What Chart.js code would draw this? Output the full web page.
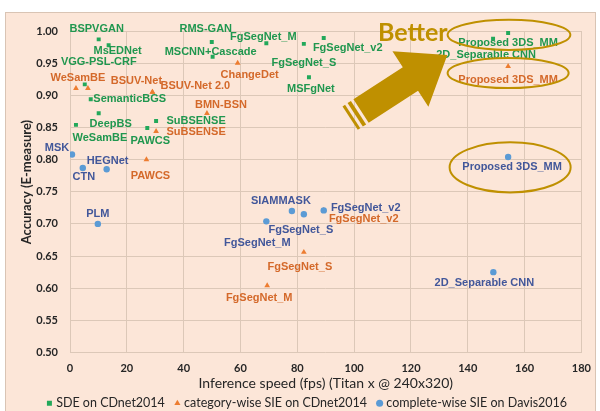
<!DOCTYPE html>
<html>
<head>
<meta charset="utf-8">
<script src="https://cdn.jsdelivr.net/npm/chart.js@4"></script>
<style>
  html, body { margin: 0; padding: 0; background: #ffffff; }
  canvas { display: block; }
</style>
</head>
<body>
<canvas id="c" width="600" height="411"></canvas>
<script>
// ---------------- DATA ----------------
const xTicks = [0, 20, 40, 60, 80, 100, 120, 140, 160, 180];
const yTicks = [0.50, 0.55, 0.60, 0.65, 0.70, 0.75, 0.80, 0.85, 0.90, 0.95, 1.00];

// SDE on CDnet2014 (green squares)
const sdeNames = ["BSPVGAN", "MsEDNet", "VGG-PSL-CRF", "SemanticBGS", "DeepBS", "WeSamBE",
  "SuBSENSE", "PAWCS", "RMS-GAN", "MSCNN+Cascade", "FgSegNet_M", "FgSegNet_S",
  "FgSegNet_v2", "MSFgNet", "2D_Separable CNN", "Proposed 3DS_MM"];
const sdeFps = [10.1, 13.6, 5.2, 7.3, 10.1, 2.1, 30.3, 27.2, 49.9, 50.2, 69.1, 82.3, 89.3, 84.1, 148.9, 154.2];
const sdeAcc = [0.987, 0.978, 0.917, 0.894, 0.872, 0.854, 0.860, 0.849, 0.983, 0.960, 0.981, 0.980, 0.989, 0.928, 0.988, 0.997];

// category-wise SIE on CDnet2014 (orange triangles)
const catNames = ["WeSamBE", "", "BSUV-Net", "BSUV-Net 2.0", "BMN-BSN", "SuBSENSE", "PAWCS",
  "ChangeDet", "FgSegNet_v2", "FgSegNet_S", "FgSegNet_M", "Proposed 3DS_MM"];
const catFps = [2.1, 6.3, 29.0, 29.0, 48.2, 30.3, 26.9, 59.0, 89.3, 82.3, 69.4, 154.2];
const catAcc = [0.911, 0.911, 0.905, 0.905, 0.872, 0.844, 0.800, 0.950, 0.721, 0.656, 0.604, 0.945];

// complete-wise SIE on Davis2016 (blue circles)
const davNames = ["MSK", "CTN", "HEGNet", "PLM", "FgSegNet_M", "SIAMMASK", "FgSegNet_S",
  "FgSegNet_v2", "2D_Separable CNN", "Proposed 3DS_MM"];
const davFps = [0.7, 4.5, 12.9, 9.8, 69.1, 78.1, 82.3, 89.3, 149.0, 154.2];
const davAcc = [0.808, 0.787, 0.785, 0.700, 0.704, 0.720, 0.715, 0.721, 0.625, 0.804];

const seriesNames = ["SDE on CDnet2014", "category-wise SIE on CDnet2014", "complete-wise SIE on Davis2016"];
const xTitle = 'Inference speed (fps) (Titan x @ 240x320)';
const yTitle = 'Accuracy (E-measure)';

// ---------------- STYLE / LABEL PLACEMENT (pixel offsets of label centres) ----------------
const sdeLabelOffsets = [[-2,-10],[9,6],[14,-22],[39,0],[12,11],[24,13],[40,0],[3,13],
  [-6,-13],[-2,-5],[-3,-6],[0,19],[24,10],[2,12],[-7,16],[0,10]];
const catLabelOffsets = [[2,-10],[0,0],[-16,-11],[43,-6],[14,-8],[40,1],[4,16],
  [12,12],[40,9],[-4,15],[-8,12],[0,14]];
const davLabelOffsets = [[-15,-6],[1,9],[1,-8],[0,-10],[-9,22],[-11,-10],[-3,16],
  [42,-2],[-9,11],[4,10]];

const GREEN = '#22a85a', GREEN_T = '#20974f';
const ORANGE = '#ed7d31', ORANGE_T = '#d4692a';
const BLUE = '#5b9bd5', BLUE_T = '#42579a';
const GOLD = '#bf9000';

function pts(xs, ys) { return xs.map((x, i) => ({ x: x, y: ys[i] })); }

const bgPlugin = {
  id: 'bg',
  beforeDraw(chart) {
    const ctx = chart.ctx;
    ctx.save();
    ctx.fillStyle = '#ffffff';
    ctx.fillRect(0, 0, chart.width, chart.height);
    ctx.fillStyle = '#fce6d8';
    ctx.fillRect(5, 12, 591, 399);
    ctx.strokeStyle = '#d9c4b4';
    ctx.lineWidth = 1;
    ctx.strokeRect(5.5, 12.5, 590, 399);
    ctx.restore();
  }
};

const yTitlePlugin = {
  id: 'ytitle',
  afterDraw(chart, args, opts) {
    const ctx = chart.ctx, ys = chart.scales.y;
    ctx.save();
    ctx.translate(opts.x, ys.getPixelForValue(opts.centerValue));
    ctx.rotate(-Math.PI / 2);
    ctx.font = 'bold 13px Lato, sans-serif';
    ctx.fillStyle = '#262626';
    ctx.textAlign = 'center';
    ctx.textBaseline = 'middle';
    ctx.fillText(opts.text, 0, 0);
    ctx.restore();
  }
};

const labelPlugin = {
  id: 'ptlabels',
  afterDatasetsDraw(chart, args, opts) {
    const ctx = chart.ctx;
    ctx.save();
    ctx.font = 'bold 11px "Liberation Sans", Arial, sans-serif';
    ctx.textAlign = 'center';
    ctx.textBaseline = 'middle';
    chart.data.datasets.forEach((ds, di) => {
      const meta = chart.getDatasetMeta(di);
      const names = opts.names[di], offs = opts.offsets[di];
      ctx.fillStyle = opts.colors[di];
      meta.data.forEach((el, i) => {
        if (!names[i]) return;
        ctx.fillText(names[i], el.x + offs[i][0], el.y + offs[i][1]);
      });
    });
    ctx.restore();
  }
};

const decoPlugin = {
  id: 'deco',
  afterDraw(chart, args, opts) {
    const ctx = chart.ctx, xs = chart.scales.x, ys = chart.scales.y;
    ctx.save();
    ctx.strokeStyle = GOLD; ctx.lineWidth = 2;
    opts.ellipses.forEach(e => {
      const cx = xs.getPixelForValue(e.cx), cy = ys.getPixelForValue(e.cy);
      const rx = Math.abs(xs.getPixelForValue(e.cx + e.rx) - cx);
      const ry = Math.abs(ys.getPixelForValue(e.cy + e.ry) - cy);
      ctx.beginPath(); ctx.ellipse(cx, cy, rx, ry, 0, 0, Math.PI * 2); ctx.stroke();
    });
    const a = opts.arrow;
    const tx = xs.getPixelForValue(a.tipX), ty = ys.getPixelForValue(a.tipY);
    const sx = xs.getPixelForValue(a.tailX), sy = ys.getPixelForValue(a.tailY);
    const L = Math.hypot(tx - sx, ty - sy), ang = Math.atan2(ty - sy, tx - sx);
    ctx.translate(sx, sy); ctx.rotate(ang);
    ctx.fillStyle = GOLD;
    const hw = 14, headL = 44, headW = 33;
    ctx.fillRect(0, -hw, 3, hw * 2);
    ctx.fillRect(6, -hw, 4, hw * 2);
    ctx.beginPath();
    ctx.moveTo(13, -hw); ctx.lineTo(L - headL, -hw); ctx.lineTo(L - headL, -headW);
    ctx.lineTo(L, 0); ctx.lineTo(L - headL, headW); ctx.lineTo(L - headL, hw); ctx.lineTo(13, hw);
    ctx.closePath(); ctx.fill();
    ctx.setTransform(1, 0, 0, 1, 0, 0);
    ctx.fillStyle = GOLD;
    ctx.font = 'bold 25px Lato, sans-serif';
    ctx.textAlign = 'left'; ctx.textBaseline = 'middle';
    ctx.fillText(opts.text, xs.getPixelForValue(opts.textX), ys.getPixelForValue(opts.textY));
    ctx.restore();
  }
};

new Chart(document.getElementById('c'), {
  type: 'scatter',
  data: {
    datasets: [
      { label: seriesNames[0], data: pts(sdeFps, sdeAcc), pointStyle: 'rect', pointRadius: 2.8,
        backgroundColor: GREEN, borderColor: GREEN, borderWidth: 0, order: 1 },
      { label: seriesNames[1], data: pts(catFps, catAcc), pointStyle: 'triangle', pointRadius: 3.3,
        backgroundColor: ORANGE, borderColor: ORANGE, borderWidth: 0, order: 2 },
      { label: seriesNames[2], data: pts(davFps, davAcc), pointStyle: 'circle', pointRadius: 3.2,
        backgroundColor: BLUE, borderColor: BLUE, borderWidth: 0, order: 0 }
    ]
  },
  options: {
    responsive: false,
    animation: false,
    layout: { padding: { left: 30, right: 14, top: 31, bottom: -8.5 } },
    scales: {
      x: {
        type: 'linear', min: xTicks[0], max: xTicks[xTicks.length - 1],
        afterBuildTicks(s) { s.ticks = xTicks.map(v => ({ value: v })); },
        afterFit(s) { s.height = 32.5; },
        grid: { color: '#dcc8b8', drawTicks: false, lineWidth: 1 },
        border: { display: false },
        ticks: { padding: 9, color: '#262626', font: { family: 'Lato', size: 11, weight: 'bold' },
          callback: v => String(v) },
        title: { display: true, text: xTitle, color: '#262626',
          font: { family: 'Lato', size: 14 }, padding: { top: 0, bottom: -6.9 } }
      },
      y: {
        type: 'linear', min: yTicks[0], max: yTicks[yTicks.length - 1],
        afterBuildTicks(s) { s.ticks = yTicks.map(v => ({ value: v })); },
        afterFit(s) { s.width = 40; },
        grid: { color: '#dcc8b8', drawTicks: false, lineWidth: 1 },
        border: { display: false },
        ticks: { padding: 12, color: '#262626', font: { family: 'Lato', size: 11, weight: 'bold' },
          callback: v => Number(v).toFixed(2) },
        title: { display: false }
      }
    },
    plugins: {
      legend: {
        position: 'bottom',
        labels: { usePointStyle: true, boxWidth: 1, boxHeight: 5, padding: 12, color: '#262626',
          font: { family: 'Lato', size: 12.5 },
          sort: (a, b) => a.datasetIndex - b.datasetIndex }
      },
      tooltip: { enabled: false },
      ytitle: { text: yTitle, x: 27, centerValue: 0.765 },
      ptlabels: {
        names: [sdeNames, catNames, davNames],
        offsets: [sdeLabelOffsets, catLabelOffsets, davLabelOffsets],
        colors: [GREEN_T, ORANGE_T, BLUE_T]
      },
      deco: {
        ellipses: [
          { cx: 154.5, cy: 0.994, rx: 21.6, ry: 0.0234 },
          { cx: 154.2, cy: 0.9346, rx: 21.3, ry: 0.0234 },
          { cx: 154.9, cy: 0.788, rx: 21.3, ry: 0.039 }
        ],
        arrow: { tailX: 98.6, tailY: 0.8645, tipX: 132.8, tipY: 0.9626 },
        text: 'Better', textX: 108.4, textY: 0.997
      }
    }
  },
  plugins: [bgPlugin, yTitlePlugin, labelPlugin, decoPlugin]
});
</script>
</body>
</html>
